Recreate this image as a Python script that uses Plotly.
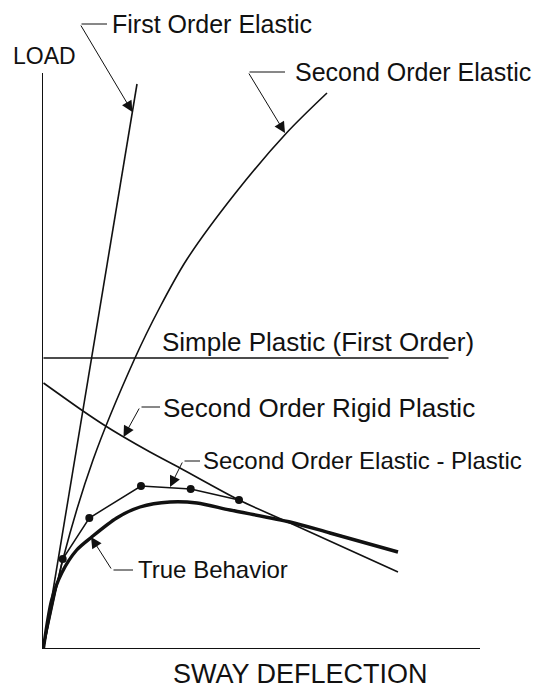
import plotly.graph_objects as go

# ---- data (deflection, load) ----
first_order_x = [0, 93.5]
first_order_y = [0, 564]

second_order_x = [0, 19.5, 49.5, 91.5, 116, 143, 192, 243, 283.5]
second_order_y = [0, 89, 188, 290, 340, 388, 455, 515, 555]

simple_plastic_x = [0, 405]
simple_plastic_y = [290, 290]

rigid_plastic_x = [0, 39.5, 60.5, 78.5, 106.5, 136.5, 195.5, 246.5, 354.5]
rigid_plastic_y = [265, 237, 223, 212, 196, 180, 148, 125, 76]

elastic_plastic_x = [0, 19.2, 45.8, 97.5, 147.2, 195.5]
elastic_plastic_y = [0, 89, 130, 162, 159, 148]

true_x = [0, 8.2, 18.2, 33.2, 48.2, 73.2, 96.5, 126.5, 153.5, 186.5, 246.5, 286.5, 354.5]
true_y = [0, 48, 75, 98, 111, 130, 141, 146, 145, 138, 126, 115, 96]

labels = {
    "first": "First Order Elastic",
    "second": "Second Order Elastic",
    "simple": "Simple Plastic (First Order)",
    "rigid": "Second Order Rigid Plastic",
    "ep": "Second Order Elastic - Plastic",
    "true": "True Behavior",
}
x_title = "SWAY DEFLECTION"
y_title = "LOAD"

FONT = "Liberation Sans, Arial, sans-serif"
BLACK = "#111111"

X_MIN, X_MAX = -0.5, 436.5
Y_MIN, Y_MAX = 0, 575

fig = go.Figure()

def line(x, y, width=1.5, shape="linear", smoothing=1.0):
    fig.add_trace(go.Scatter(
        x=x, y=y, mode="lines",
        line=dict(color=BLACK, width=width, shape=shape, smoothing=smoothing),
        hoverinfo="skip", showlegend=False, cliponaxis=False))

line(first_order_x, first_order_y, 1.6)
line(second_order_x, second_order_y, 1.6, "spline", 0.9)
line(simple_plastic_x, simple_plastic_y, 1.3)
line(rigid_plastic_x, rigid_plastic_y, 1.6, "spline", 0.8)
line(elastic_plastic_x, elastic_plastic_y, 1.5)
line(true_x, true_y, 3.4, "spline", 0.8)

fig.add_trace(go.Scatter(
    x=elastic_plastic_x[1:], y=elastic_plastic_y[1:], mode="markers",
    marker=dict(color=BLACK, size=8), hoverinfo="skip", showlegend=False,
    cliponaxis=False))

def px(v):
    return (v - X_MIN) / (X_MAX - X_MIN)

def py(v):
    return (v - Y_MIN) / (Y_MAX - Y_MIN)

annotations = []

def text_label(pos, text, size=26, anchor="left"):
    annotations.append(dict(
        x=px(pos[0]), y=py(pos[1]), xref="paper", yref="paper", text=text,
        showarrow=False, xanchor=anchor, yanchor="middle",
        font=dict(family=FONT, size=size, color=BLACK)))

def leader(tip, tail, hend, text_pos, text, size=26):
    # diagonal with arrowhead
    annotations.append(dict(
        x=px(tip[0]), y=py(tip[1]), xref="paper", yref="paper",
        ax=tail[0] - tip[0], ay=tip[1] - tail[1], text="", showarrow=True,
        arrowhead=2, arrowsize=2.2, arrowwidth=1, arrowcolor=BLACK,
        standoff=0, startstandoff=0))
    # horizontal segment
    annotations.append(dict(
        x=px(hend[0]), y=py(hend[1]), xref="paper", yref="paper",
        ax=tail[0] - hend[0], ay=0, text="", showarrow=True, arrowhead=0,
        arrowwidth=1, arrowcolor=BLACK, standoff=0, startstandoff=0))
    text_label(text_pos, text, size)

leader((88.9, 536), (36.5, 624), (63.5, 624), (66, 624), labels["first"], 25)
leader((241.5, 515), (204.5, 576), (241.5, 576), (249, 576), labels["second"], 25)
leader((80, 211), (96.5, 241), (116.5, 241), (117, 240), labels["rigid"], 26)
leader((126.5, 161), (139.5, 187), (156.5, 187), (157, 187), labels["ep"], 24)
leader((47.5, 111), (68.5, 78), (89.5, 78), (92, 79), labels["true"], 24)

text_label((116, 306), labels["simple"], 26)
text_label((0.5, 592), y_title, 23, "center")
text_label((256.5, -26), x_title, 27, "center")

fig.update_layout(
    width=543, height=691,
    margin=dict(l=43, r=63, t=73, b=43),
    paper_bgcolor="white", plot_bgcolor="white",
    annotations=annotations,
    xaxis=dict(range=[X_MIN, X_MAX], showgrid=False, zeroline=False,
               showticklabels=False, ticks="", showline=True,
               linecolor=BLACK, linewidth=1.3, fixedrange=True),
    yaxis=dict(range=[Y_MIN, Y_MAX], showgrid=False, zeroline=False,
               showticklabels=False, ticks="", showline=True,
               linecolor=BLACK, linewidth=1.3, fixedrange=True),
)

fig.write_html("out.html", config={"displayModeBar": False},
               post_script="document.body.style.margin='0px';")
